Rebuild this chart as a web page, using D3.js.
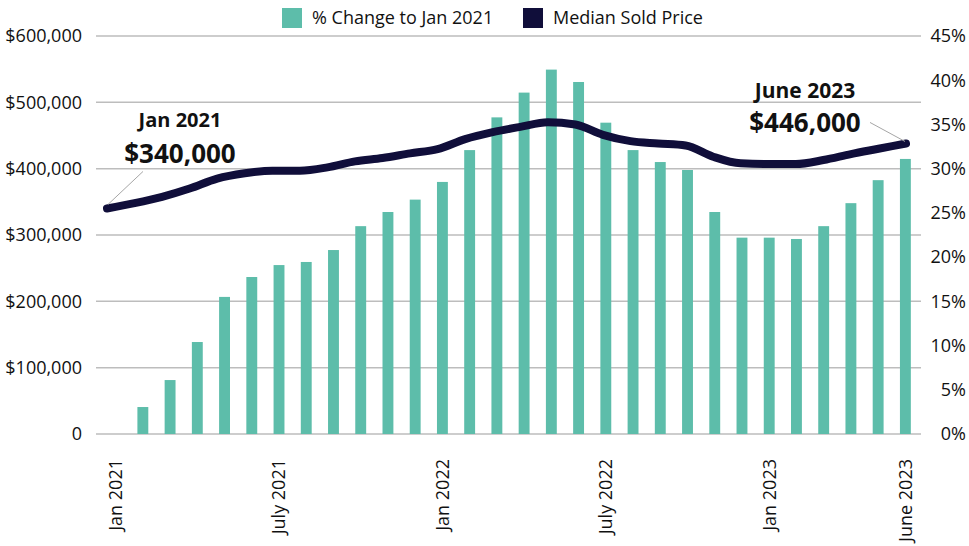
<!DOCTYPE html>
<html>
<head>
<meta charset="utf-8">
<script src="https://cdn.jsdelivr.net/npm/d3@7"></script>
<style>
  body { margin: 0; background: #fff; }
  text { font-family: "Open Sans", sans-serif; fill: #111; }
</style>
</head>
<body>
<div id="chart"></div>
<script>
// --------------------------------------
//  Data
// --------------------------------------

const months = [
  "Jan 2021", "Feb 2021", "Mar 2021", "Apr 2021", "May 2021", "June 2021",
  "July 2021", "Aug 2021", "Sep 2021", "Oct 2021", "Nov 2021", "Dec 2021",
  "Jan 2022", "Feb 2022", "Mar 2022", "Apr 2022", "May 2022", "June 2022",
  "July 2022", "Aug 2022", "Sep 2022", "Oct 2022", "Nov 2022", "Dec 2022",
  "Jan 2023", "Feb 2023", "Mar 2023", "Apr 2023", "May 2023", "June 2023"
];

// % change to Jan 2021 (bars, right axis)
const pctChange = [
  0, 3.05, 6.1, 10.4, 15.5, 17.75, 19.1, 19.45, 20.8, 23.5, 25.1, 26.5,
  28.5, 32.1, 35.8, 38.6, 41.2, 39.8, 35.2, 32.1, 30.75, 29.85, 25.1, 22.2,
  22.2, 22.05, 23.5, 26.1, 28.7, 31.1
];

// median sold price (line, left axis)
const medianPrice = [
  340000, 348000, 357500, 370000, 385000, 393000, 397000, 397000, 402000, 411000, 416000, 423000,
  429500, 444500, 455000, 463000, 470000, 466500, 451000, 441500, 438000, 435000, 418000, 408000,
  407000, 407000, 413000, 422000, 430000, 438000
];

const xTickLabels = ["Jan 2021", "July 2021", "Jan 2022", "July 2022", "Jan 2023", "June 2023"];
const priceTicks = [0, 100000, 200000, 300000, 400000, 500000, 600000];
const pctTicks = [0, 5, 10, 15, 20, 25, 30, 35, 40, 45];

const callouts = [
  { month: "Jan 2021", label: "Jan 2021", value: "$340,000" },
  { month: "June 2023", label: "June 2023", value: "$446,000" }
];

// --------------------------------------
//  Canvas
// --------------------------------------

const width = 969, height = 546;
const teal = "#5dbdaa", navy = "#100e3a", grid = "#bdbdbd";

const svg = d3.select("#chart")
  .append("svg")
    .attr("width", width)
    .attr("height", height)
    .attr("viewBox", [0, 0, width, height]);

// --------------------------------------
//  Scales
// --------------------------------------

const xBar = d3.scaleBand()
  .domain(months)
  .range([102, 919])
  .paddingInner(0.6)
  .paddingOuter(0.3);

const xLine = d3.scalePoint()
  .domain(months)
  .range([107, 906]);

const yPrice = d3.scaleLinear()
  .domain([0, 600000])
  .range([434, 36]);

const yPct = d3.scaleLinear()
  .domain([0, 45])
  .range([434, 36]);

// --------------------------------------
//  Grid and axes
// --------------------------------------

svg.append("g")
  .selectAll("line")
  .data(priceTicks)
  .join("line")
    .attr("x1", 96)
    .attr("x2", 921)
    .attr("y1", d => yPrice(d))
    .attr("y2", d => yPrice(d))
    .attr("stroke", grid)
    .attr("stroke-width", 1.5);

const fmtPrice = d => d === 0 ? "0" : "$" + d3.format(",")(d);

svg.append("g")
  .selectAll("text")
  .data(priceTicks)
  .join("text")
    .attr("x", 82)
    .attr("y", d => yPrice(d))
    .attr("dy", "0.35em")
    .attr("text-anchor", "end")
    .style("font-size", "18px")
    .text(fmtPrice);

svg.append("g")
  .selectAll("text")
  .data(pctTicks)
  .join("text")
    .attr("x", 966)
    .attr("y", d => yPct(d))
    .attr("dy", "0.35em")
    .attr("text-anchor", "end")
    .style("font-size", "18px")
    .text(d => d + "%");

svg.append("g")
  .selectAll("text")
  .data(xTickLabels)
  .join("text")
    .attr("transform", d => `translate(${xBar(d) + xBar.bandwidth() / 2}, 459) rotate(-90)`)
    .attr("dy", "0.35em")
    .attr("text-anchor", "end")
    .style("font-size", "18px")
    .text(d => d);

// --------------------------------------
//  Bars
// --------------------------------------

svg.append("g")
  .selectAll("rect")
  .data(months)
  .join("rect")
    .attr("x", d => xBar(d))
    .attr("width", xBar.bandwidth())
    .attr("y", (d, i) => yPct(pctChange[i]))
    .attr("height", (d, i) => yPct(0) - yPct(pctChange[i]))
    .attr("fill", teal);

// --------------------------------------
//  Line
// --------------------------------------

const line = d3.line()
  .curve(d3.curveMonotoneX)
  .x((d, i) => xLine(months[i]))
  .y(d => yPrice(d));

svg.append("path")
  .datum(medianPrice)
  .attr("d", line)
  .attr("fill", "none")
  .attr("stroke", navy)
  .attr("stroke-width", 8)
  .attr("stroke-linecap", "round")
  .attr("stroke-linejoin", "round");

// --------------------------------------
//  Callouts
// --------------------------------------

const c0 = callouts[0], c1 = callouts[1];
const p0 = [xLine(c0.month), yPrice(medianPrice[months.indexOf(c0.month)])];
const p1 = [xLine(c1.month), yPrice(medianPrice[months.indexOf(c1.month)])];

svg.append("line")
  .attr("x1", p0[0] + 1).attr("y1", p0[1] - 4)
  .attr("x2", p0[0] + 36).attr("y2", p0[1] - 37)
  .attr("stroke", "#a6a6a6").attr("stroke-width", 1);

svg.append("line")
  .attr("x1", p1[0] - 1).attr("y1", p1[1] - 2)
  .attr("x2", p1[0] - 36).attr("y2", p1[1] - 21)
  .attr("stroke", "#a6a6a6").attr("stroke-width", 1);

svg.append("text")
  .attr("x", 180).attr("y", 127)
  .attr("text-anchor", "middle")
  .style("font-size", "20px").style("font-weight", "bold")
  .text(c0.label);

svg.append("text")
  .attr("x", 180).attr("y", 163)
  .attr("text-anchor", "middle")
  .style("font-size", "26px").style("font-weight", "bold")
  .text(c0.value);

svg.append("text")
  .attr("x", 805).attr("y", 98)
  .attr("text-anchor", "middle")
  .style("font-size", "21px").style("font-weight", "bold")
  .text(c1.label);

svg.append("text")
  .attr("x", 805).attr("y", 132)
  .attr("text-anchor", "middle")
  .style("font-size", "26px").style("font-weight", "bold")
  .text(c1.value);

// --------------------------------------
//  Legend
// --------------------------------------

const legend = [
  { name: "% Change to Jan 2021", color: teal, x: 282 },
  { name: "Median Sold Price", color: navy, x: 523 }
];

const lg = svg.append("g")
  .selectAll("g")
  .data(legend)
  .join("g")
    .attr("transform", d => `translate(${d.x}, 8)`);

lg.append("rect")
  .attr("width", 20)
  .attr("height", 20)
  .attr("fill", d => d.color);

lg.append("text")
  .attr("x", 30)
  .attr("y", 10)
  .attr("dy", "0.35em")
  .style("font-size", "18px")
  .text(d => d.name);
</script>
</body>
</html>
